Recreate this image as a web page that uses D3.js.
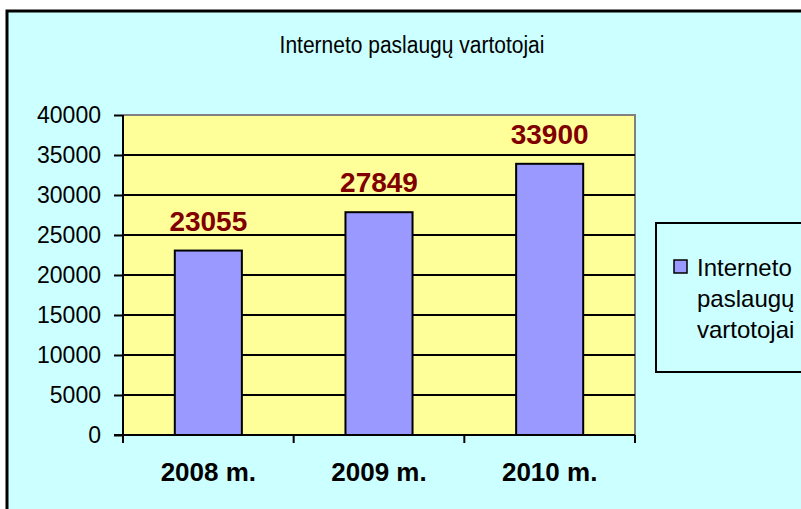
<!DOCTYPE html>
<html>
<head>
<meta charset="utf-8">
<script src="https://cdn.jsdelivr.net/npm/d3@7"></script>
<style>
  body { margin: 0; background: #fff; }
  text { font-family: Arial, 'Liberation Sans', sans-serif; }
</style>
</head>
<body>
<div id="chart-area"></div>
<script>
// chart data
const title = 'Interneto paslaugų vartotojai'
const categories = ['2008 m.', '2009 m.', '2010 m.']
const users = [23055, 27849, 33900]
const yTicks = [0, 5000, 10000, 15000, 20000, 25000, 30000, 35000, 40000]
const seriesName = ['Interneto', 'paslaugų', 'vartotojai']

const W = 801, H = 509
const plot = {left: 123, top: 115, right: 635, bottom: 435}

const svg = d3.select('#chart-area').append('svg')
  .attr('width', W)
  .attr('height', H)

// outer frame, runs off the right and bottom edges
svg.append('rect')
  .attr('x', 7).attr('y', 11)
  .attr('width', W + 20).attr('height', H + 20)
  .attr('fill', '#ccffff')
  .attr('stroke', '#000')
  .attr('stroke-width', 3)

svg.append('text')
  .attr('transform', 'translate(412,53) scale(1,1.1)')
  .attr('text-anchor', 'middle')
  .attr('font-size', 21)
  .text(title)

const x = d3.scaleBand()
  .domain(categories)
  .range([plot.left, plot.right])

const y = d3.scaleLinear()
  .domain([0, 40000])
  .range([plot.bottom, plot.top])

const barW = x.bandwidth() * 0.393

// plot background
svg.append('rect')
  .attr('x', plot.left).attr('y', plot.top)
  .attr('width', plot.right - plot.left)
  .attr('height', plot.bottom - plot.top)
  .attr('fill', '#ffff99')

// grey border top/right
svg.append('path')
  .attr('d', `M${plot.left},${plot.top}H${plot.right}V${plot.bottom}`)
  .attr('fill', 'none')
  .attr('stroke', '#808080')
  .attr('stroke-width', 2)

// gridlines
svg.append('g')
  .selectAll('line')
  .data(yTicks.filter(d => d > 0 && d < 40000))
  .join('line')
    .attr('x1', plot.left).attr('x2', plot.right)
    .attr('y1', d => y(d)).attr('y2', d => y(d))
    .attr('stroke', '#000')
    .attr('stroke-width', 2)

// bars
svg.append('g')
  .selectAll('rect')
  .data(users)
  .join('rect')
    .attr('x', (d, i) => x(categories[i]) + (x.bandwidth() - barW) / 2)
    .attr('y', d => y(d))
    .attr('width', barW)
    .attr('height', d => y(0) - y(d))
    .attr('fill', '#9999ff')
    .attr('stroke', '#000')
    .attr('stroke-width', 2)

// value labels
svg.append('g')
  .selectAll('text')
  .data(users)
  .join('text')
    .attr('x', (d, i) => x(categories[i]) + x.bandwidth() / 2)
    .attr('y', d => y(d) - 20)
    .attr('text-anchor', 'middle')
    .attr('font-size', 28)
    .attr('font-weight', 'bold')
    .attr('fill', '#800000')
    .text(d => d)

// y axis
const yAxisCall = d3.axisLeft(y)
  .tickValues(yTicks)
  .tickSize(9)
  .tickPadding(13)
  .tickFormat(d => d)
const yAxis = svg.append('g')
  .attr('transform', `translate(${plot.left},0)`)
  .call(yAxisCall)
yAxis.select('.domain').attr('stroke-width', 2).attr('d', `M0,${plot.top}V${plot.bottom + 7}`)
yAxis.selectAll('.tick line').attr('stroke-width', 2)
yAxis.selectAll('.tick text')
  .attr('font-size', 23)
  .attr('font-family', 'Arial, "Liberation Sans", sans-serif')
  .attr('fill', '#000')

// x axis: ticks at category boundaries
const xAxis = svg.append('g')
svg.append('line')
  .attr('x1', plot.left - 9).attr('x2', plot.right)
  .attr('y1', plot.bottom).attr('y2', plot.bottom)
  .attr('stroke', '#000').attr('stroke-width', 2)
xAxis.selectAll('line')
  .data(categories.concat(['end']))
  .join('line')
    .attr('x1', (d, i) => i < categories.length ? x(d) : plot.right)
    .attr('x2', (d, i) => i < categories.length ? x(d) : plot.right)
    .attr('y1', plot.bottom).attr('y2', plot.bottom + 8)
    .attr('stroke', '#000').attr('stroke-width', 2)
xAxis.selectAll('text')
  .data(categories)
  .join('text')
    .attr('x', d => x(d) + x.bandwidth() / 2)
    .attr('y', 481)
    .attr('text-anchor', 'middle')
    .attr('font-size', 26)
    .attr('font-weight', 'bold')
    .text(d => d)

// legend
const legend = svg.append('g')
legend.append('rect')
  .attr('x', 656).attr('y', 223)
  .attr('width', 200).attr('height', 149)
  .attr('fill', '#ccffff')
  .attr('stroke', '#000')
  .attr('stroke-width', 2)
legend.append('rect')
  .attr('x', 674).attr('y', 260)
  .attr('width', 13).attr('height', 13)
  .attr('fill', '#9999ff')
  .attr('stroke', '#000')
  .attr('stroke-width', 1.5)
legend.append('text')
  .attr('font-size', 24)
  .selectAll('tspan')
  .data(seriesName)
  .join('tspan')
    .attr('x', 697)
    .attr('y', (d, i) => 276 + i * 31)
    .text(d => d)
</script>
</body>
</html>
